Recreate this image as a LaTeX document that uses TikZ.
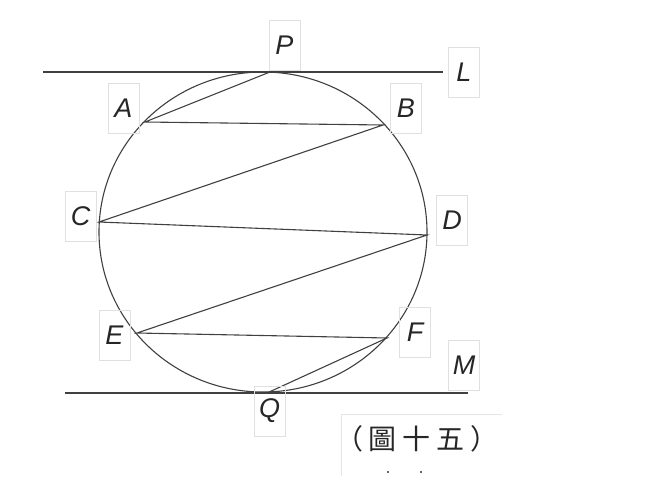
\documentclass[tikz,border=0pt]{standalone}
\usepackage{fontspec}
\setmainfont{Liberation Sans}
\newfontfamily\cjk{Noto Sans CJK TC}
\begin{document}
\begin{tikzpicture}[x=1pt,y=-1pt,
  geo/.style={draw=black!75, line width=1.1pt},
  lbl/.style={draw=black!12, line width=0.8pt, minimum width=31pt, minimum height=50pt, inner sep=0pt, font=\fontsize{27}{27}\selectfont\itshape, text=black!85},
  pt/.style={inner sep=0pt, minimum size=0pt}]
\useasboundingbox (0,0) rectangle (670,480);
% circle
\draw[geo] (263,232) ellipse [x radius=164, y radius=160];
% points on circle
\coordinate (P) at (270,72);
\coordinate (A) at (145,122);
\coordinate (B) at (383,125);
\coordinate (C) at (99,222);
\coordinate (D) at (427,235);
\coordinate (E) at (137,333);
\coordinate (F) at (387,338);
\coordinate (Q) at (267,393);
% tangent lines
\coordinate (L1) at (43,72);
\coordinate (L2) at (443,72);
\coordinate (M1) at (65,393);
\coordinate (M2) at (468,393);
\draw[geo] (L1) -- (L2);
\draw[geo] (M1) -- (M2);
% zigzag chords
\draw[geo] (P) -- (A) -- (B) -- (C) -- (D) -- (E) -- (F) -- (Q);
% labels
\node[lbl] (lP) at (284.5,45.5) {P};
\node[lbl] (lL) at (464,72) {L};
\node[lbl] (lA) at (123.5,108) {A};
\node[lbl] (lB) at (406,108) {B};
\node[lbl] (lC) at (80.5,216.5) {C};
\node[lbl] (lD) at (452,220) {D};
\node[lbl] (lE) at (114.5,335) {E};
\node[lbl] (lF) at (415,332) {F};
\node[lbl] (lM) at (464,365) {M};
\node[lbl] (lQ) at (269.5,411) {Q};
% caption frame
\draw[draw=black!10, line width=0.8pt] (341,476) -- (341,414) -- (502,414);
\node[pt, font=\cjk\fontsize{28}{28}\selectfont, text=black!85] (cap) at (417,439) {（\kern6pt 圖\kern6pt 十\kern6pt 五\kern6pt ）};
\fill[black!80] (388,472) circle (1.2);
\fill[black!80] (421,472) circle (1.2);
\end{tikzpicture}
\end{document}
